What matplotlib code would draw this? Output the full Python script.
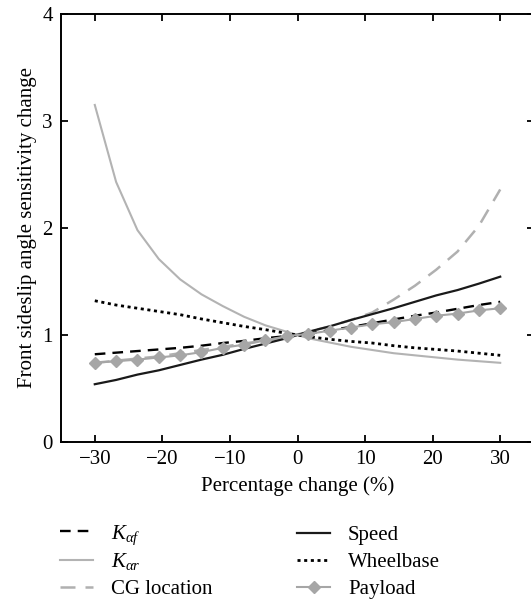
import numpy as np
import matplotlib
matplotlib.use("Agg")
import matplotlib.pyplot as plt

plt.rcParams['font.family'] = ['Liberation Serif', 'DejaVu Serif']
plt.rcParams['mathtext.fontset'] = 'custom'
plt.rcParams['mathtext.rm'] = 'Liberation Serif'
plt.rcParams['mathtext.it'] = 'Liberation Serif:italic'

# percentage change grid (20 points from -30 to 30)
pct = np.linspace(-30, 30, 20)

k_af = [0.82, 0.835, 0.85, 0.865, 0.88, 0.90, 0.925, 0.945, 0.97, 0.99,
        1.015, 1.045, 1.075, 1.11, 1.145, 1.18, 1.21, 1.245, 1.28, 1.31]
k_ar = [3.15, 2.43, 1.98, 1.71, 1.52, 1.38, 1.27, 1.17, 1.09, 1.03,
        0.97, 0.93, 0.89, 0.86, 0.83, 0.81, 0.79, 0.77, 0.755, 0.74]
cg_loc = [0.74, 0.76, 0.78, 0.80, 0.83, 0.86, 0.89, 0.92, 0.95, 0.98,
          1.03, 1.08, 1.14, 1.21, 1.33, 1.46, 1.61, 1.78, 2.02, 2.36]
speed = [0.54, 0.58, 0.63, 0.67, 0.72, 0.77, 0.815, 0.87, 0.92, 0.97,
         1.03, 1.08, 1.14, 1.195, 1.25, 1.31, 1.37, 1.42, 1.48, 1.545]
wheelbase = [1.32, 1.28, 1.25, 1.22, 1.19, 1.15, 1.115, 1.08, 1.05, 1.015,
             0.985, 0.96, 0.94, 0.925, 0.90, 0.88, 0.865, 0.85, 0.83, 0.81]
payload = [0.74, 0.755, 0.77, 0.79, 0.81, 0.84, 0.88, 0.91, 0.95, 0.99,
           1.01, 1.04, 1.07, 1.10, 1.12, 1.15, 1.18, 1.20, 1.23, 1.25]

xticks = [-30, -20, -10, 0, 10, 20, 30]
yticks = [0, 1, 2, 3, 4]

fs = 15
W, H = 531, 607

fig = plt.figure(figsize=(W / 100, H / 100), dpi=100)
ax = fig.add_axes([61 / W, 165 / H, 473 / W, 428 / H])

ax.plot(pct, k_af, color='black', lw=1.7, dashes=(4.5, 3), label=r'$K_{\alpha f}$')
ax.plot(pct, k_ar, color='#b3b3b3', lw=1.5, label=r'$K_{\alpha r}$')
ax.plot(pct, cg_loc, color='#b0b0b0', lw=1.8, dashes=(6, 4), label='CG location')
ax.plot(pct, speed, color='#1a1a1a', lw=1.6, label='Speed')
ax.plot(pct, wheelbase, color='black', lw=2.0, dashes=(1.1, 1.3), label='Wheelbase')
ax.plot(pct, payload, color='#a6a6a6', lw=1.5, marker='D', ms=6.5,
        label='Payload')

ax.set_xlim(-35, 35)
ax.set_ylim(0, 4)
ax.set_xticks(xticks)
ax.set_yticks(yticks)
ax.tick_params(direction='in', length=5, width=1.3, top=True, right=True,
               labelsize=fs, pad=6)
for s in ax.spines.values():
    s.set_linewidth(1.4)

ax.set_xlabel('Percentage change (%)', fontsize=fs, labelpad=5)
ax.set_ylabel('Front sideslip angle sensitivity change', fontsize=fs, labelpad=4)

# one small legend per entry so the rows stay evenly spaced
# (the subscripted labels would otherwise push their column apart)
handles, labels = ax.get_legend_handles_labels()
row_y = [535, 562, 589]
col_x = [60, 297]
for i, (h, l) in enumerate(zip(handles, labels)):
    c, r = divmod(i, 3)
    fig.legend([h], [l], loc='center left',
               bbox_to_anchor=(col_x[c] / W, 1 - row_y[r] / H),
               frameon=False, fontsize=fs, handlelength=1.6,
               handletextpad=0.85, borderpad=0, borderaxespad=0)

fig.savefig('out.png', dpi=100)
